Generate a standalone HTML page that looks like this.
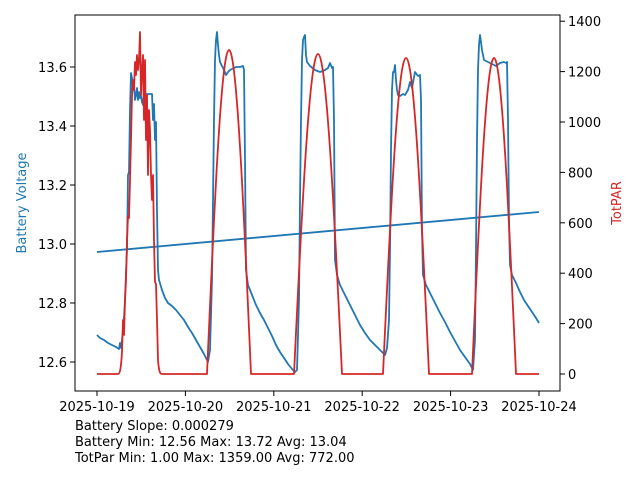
<!DOCTYPE html>
<html><head><meta charset="utf-8"><style>
body{margin:0;background:#fff}
svg text{font-family:"DejaVu Sans","Liberation Sans",sans-serif;font-size:13px;fill:#000}
</style></head><body>
<svg width="640" height="480" viewBox="0 0 640 480" xmlns="http://www.w3.org/2000/svg">
<rect width="640" height="480" fill="#fff"/>
<g fill="none" stroke-width="1.8" stroke-linejoin="round">
<line x1="97" y1="252" x2="539" y2="212" stroke="#1f77b4"/>
<polyline stroke="#1f77b4" points="97,335 100,338 104,340 108,343 112,345 116,347 119,349 120,343 121,348 122,340 123,330 124,318 125,300 126,272 127,250 128,175 129,172 130,110 131,73 132,78 133,90 134,85 135,100 136,95 137,88 138,100 139,92 140,98 141,96 142,102 143,105 144,93 145,95 147,94 150,94 152,94 153,120 154,104 155,140 156,122 157,210 158,270 159,280 162,290 165,298 168,303 172,306 176,310 180,315 184,320 188,327 192,333 196,340 200,347 204,354 208,362 210,350 212,280 213,200 214,120 215,60 216,40 217,32 218,45 219,55 220,62 222,66 224,70 226,75 228,72 230,70 232,69 234,68 236,67 240,67 243,66 244,70 245,160 246,270 248,285 252,295 256,305 260,313 264,320 268,328 272,336 276,345 280,352 284,358 288,364 292,369 295,372 297,370 299,300 300,200 301,120 302,60 303,40 304,37 305,35 306,55 307,62 310,66 315,70 320,72 325,70 328,68 330,63 332,68 333,67 334,120 335,260 337,275 340,285 345,295 350,305 355,315 360,325 365,333 370,340 375,345 380,350 385,355 387,348 389,320 390,250 391,150 392,90 393,72 394,72 395,65 396,80 397,90 398,95 400,96 403,94 405,95 408,90 410,82 412,88 415,72 418,76 420,75 421,100 422,230 423,275 426,285 430,293 435,303 440,313 445,322 450,332 455,341 460,350 465,357 470,364 473,370 475,340 476,250 477,140 478,70 479,45 480,35 481,42 482,50 484,60 488,62 492,64 496,66 500,63 504,62 506,63 507,62 508,120 509,220 510,265 512,275 516,283 520,292 524,300 528,306 532,312 536,318 539,323"/>
<path stroke="#d62728" d="M97,374 L118,374 C120,374 121,368 122,352 L123,320 124,335 125,300 126,280 127,240 128,216 129,218 130,180 131,140 132,95 133,80 134,90 135,62 136,75 137,55 138,70 139,60 140,32 141,95 142,70 143,55 144,120 145,60 146,140 147,95 148,175 149,110 150,130 151,175 152,200 153,175 154,240 155,282 156,284 157,320 158,360 C159,372 160,374 162,374 L207,374 C214.2,208 221.3,50 229,50 C236.7,50 243.8,208 251,374 L294,374 C301.8,210 309.6,54 318,54 C326.4,54 334.2,210 342,374 L383,374 C390.5,212 397.9,58 406,58 C414.1,58 421.5,212 429,374 L472,374 C479.2,212 486.3,58 494,58 C501.7,58 508.8,212 516,374 L539,374"/>
</g>
<rect x="75" y="15" width="485" height="376" fill="none" stroke="#000" stroke-width="1"/>
<g stroke="#000" stroke-width="1">
<line x1="70" y1="362" x2="75" y2="362"/><line x1="70" y1="303" x2="75" y2="303"/><line x1="70" y1="244" x2="75" y2="244"/><line x1="70" y1="185" x2="75" y2="185"/><line x1="70" y1="126" x2="75" y2="126"/><line x1="70" y1="67" x2="75" y2="67"/>
<line x1="560" y1="374" x2="565" y2="374"/><line x1="560" y1="323.6" x2="565" y2="323.6"/><line x1="560" y1="273.2" x2="565" y2="273.2"/><line x1="560" y1="222.8" x2="565" y2="222.8"/><line x1="560" y1="172.4" x2="565" y2="172.4"/><line x1="560" y1="122" x2="565" y2="122"/><line x1="560" y1="71.6" x2="565" y2="71.6"/><line x1="560" y1="21.2" x2="565" y2="21.2"/>
<line x1="97" y1="391" x2="97" y2="396"/><line x1="185.4" y1="391" x2="185.4" y2="396"/><line x1="273.8" y1="391" x2="273.8" y2="396"/><line x1="362.2" y1="391" x2="362.2" y2="396"/><line x1="450.6" y1="391" x2="450.6" y2="396"/><line x1="539" y1="391" x2="539" y2="396"/>
</g>
<g text-anchor="end">
<text x="67" y="367">12.6</text><text x="67" y="308">12.8</text><text x="67" y="249">13.0</text><text x="67" y="190">13.2</text><text x="67" y="131">13.4</text><text x="67" y="72">13.6</text>
</g>
<g text-anchor="start">
<text x="568" y="379">0</text><text x="568" y="328.6">200</text><text x="568" y="278.2">400</text><text x="568" y="227.8">600</text><text x="568" y="177.4">800</text><text x="568" y="127">1000</text><text x="568" y="76.6">1200</text><text x="568" y="26.2">1400</text>
</g>
<g text-anchor="middle">
<text x="97" y="411">2025-10-19</text><text x="185.4" y="411">2025-10-20</text><text x="273.8" y="411">2025-10-21</text><text x="362.2" y="411">2025-10-22</text><text x="450.6" y="411">2025-10-23</text><text x="539" y="411">2025-10-24</text>
</g>
<text x="26" y="203" text-anchor="middle" transform="rotate(-90 26 203)" style="fill:#1f77b4">Battery Voltage</text>
<text x="621" y="203" text-anchor="middle" transform="rotate(-90 621 203)" style="fill:#d62728">TotPAR</text>
<text x="75" y="430">Battery Slope: 0.000279</text>
<text x="75" y="446">Battery Min: 12.56 Max: 13.72 Avg: 13.04</text>
<text x="75" y="462">TotPar Min: 1.00 Max: 1359.00 Avg: 772.00</text>
</svg>
</body></html>
